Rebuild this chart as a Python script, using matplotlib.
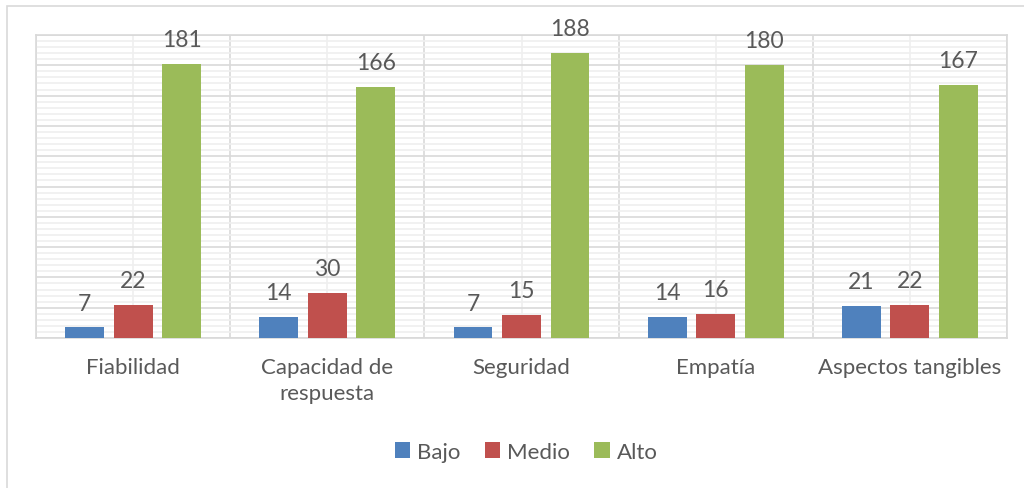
import numpy as np
import matplotlib.pyplot as plt
from matplotlib.patches import Rectangle
from matplotlib.ticker import MultipleLocator, FixedLocator

plt.rcParams['font.family'] = ['Lato', 'DejaVu Sans']

categorias = ['Fiabilidad', 'Capacidad de\nrespuesta', 'Seguridad', 'Empatía', 'Aspectos tangibles']
bajo = [7, 14, 7, 14, 21]
medio = [22, 30, 15, 16, 22]
alto = [181, 166, 188, 180, 167]

series = [('Bajo', bajo, '#4F81BD'), ('Medio', medio, '#C0504D'), ('Alto', alto, '#9BBB59')]
texto = '#595959'

fig = plt.figure(figsize=(10.24, 4.89), dpi=100)
ax = fig.add_axes([36 / 1024, 1 - 339 / 489, 971 / 1024, 303 / 489])

# marco exterior del grafico
fig.patches.append(Rectangle((7 / 1024, -0.1), 1.2, (489 - 7) / 489 + 0.1,
                             transform=fig.transFigure, fill=False,
                             edgecolor='#D9D9D9', lw=1.2))

x = np.arange(len(categorias))
ancho = 0.2
for i, (nombre, valores, color) in enumerate(series):
    barras = ax.bar(x + (i - 1) * 0.25, valores, ancho, color=color, label=nombre, zorder=3)
    for b, v in zip(barras, valores):
        ax.annotate(str(v), (b.get_x() + b.get_width() / 2, b.get_height()),
                    xytext=(0, 10), textcoords='offset points',
                    ha='center', va='bottom', fontsize=16.5, color=texto)

ax.set_xlim(-0.5, len(categorias) - 0.5)
ax.set_ylim(0, 200)

# rejilla principal y secundaria
ax.yaxis.set_major_locator(MultipleLocator(20))
ax.yaxis.set_minor_locator(MultipleLocator(4))
ax.xaxis.set_major_locator(FixedLocator(x))
ax.xaxis.set_minor_locator(FixedLocator(np.arange(-0.5, len(categorias), 1.0)))
ax.grid(which='major', axis='y', color='#D9D9D9', lw=1.2, zorder=0)
ax.grid(which='minor', axis='y', color='#EFEFEF', lw=1.2, zorder=0)
ax.grid(which='minor', axis='x', color='#D9D9D9', lw=1.2, zorder=0)
ax.grid(which='major', axis='x', color='#EFEFEF', lw=1.2, zorder=0)
ax.set_axisbelow(True)

ax.set_xticklabels(categorias, fontsize=16, color=texto, va='top', linespacing=1.35)
ax.set_yticklabels([])
ax.tick_params(which='both', length=0)
ax.tick_params(axis='x', pad=14)
for s in ax.spines.values():
    s.set_color('#D9D9D9')
    s.set_linewidth(1.2)

fig.legend(loc='center', bbox_to_anchor=(526 / 1024, 1 - 453 / 489), ncol=3,
           frameon=False, fontsize=16, labelcolor=texto,
           handlelength=0.7, handleheight=0.7, handletextpad=0.3, columnspacing=1.1)

fig.savefig('out.png', dpi=100)
